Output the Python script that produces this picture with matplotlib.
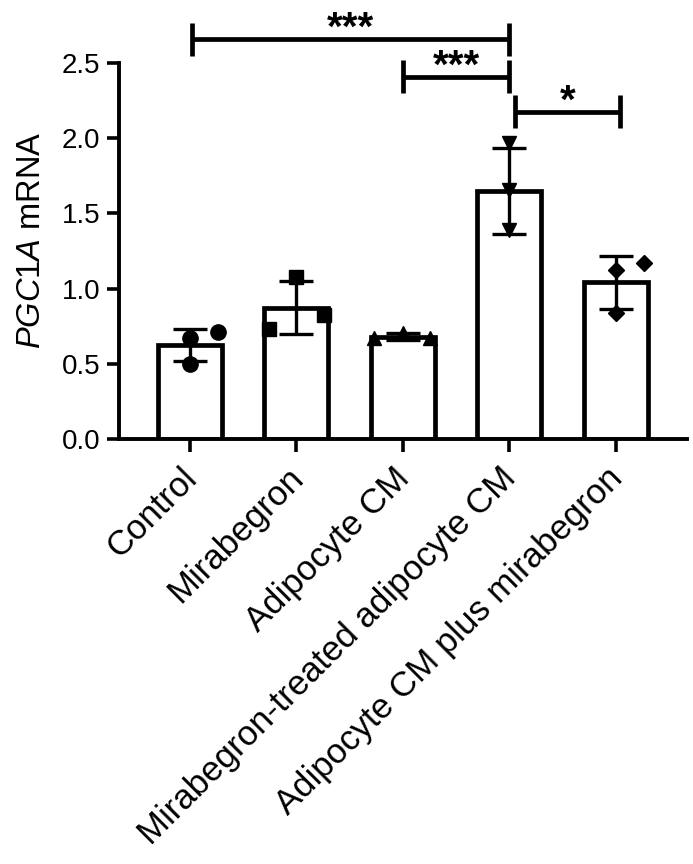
import matplotlib
matplotlib.use('Agg')
import matplotlib.pyplot as plt
from matplotlib.transforms import ScaledTranslation

plt.rcParams['font.family'] = ['Liberation Sans', 'DejaVu Sans']
plt.rcParams['mathtext.fontset'] = 'custom'
plt.rcParams['mathtext.rm'] = 'Liberation Sans'
plt.rcParams['mathtext.it'] = 'Liberation Sans:italic'

# datos
grupos = ['Control', 'Mirabegron', 'Adipocyte CM',
          'Mirabegron-treated adipocyte CM', 'Adipocyte CM plus mirabegron']
medias = [0.627, 0.875, 0.682, 1.652, 1.043]
desv = [0.105, 0.177, 0.022, 0.286, 0.175]

# puntos individuales (desplazamiento x, valor)
pts_control = [(0.0, 0.671), (0.26, 0.711), (0.0, 0.498)]
pts_mira = [(0.0, 1.080), (-0.26, 0.733), (0.26, 0.826)]
pts_cm = [(-0.27, 0.671), (0.0, 0.704), (0.26, 0.671)]
pts_mira_cm = [(0.0, 1.967), (0.0, 1.657), (0.0, 1.391)]
pts_cm_mira = [(0.0, 1.125), (0.27, 1.174), (0.0, 0.841)]
puntos = [pts_control, pts_mira, pts_cm, pts_mira_cm, pts_cm_mira]
marcadores = ['o', 's', '^', 'v', 'D']
tamanos = [11, 10, 10.5, 10.5, 8.5]

# comparaciones: (grupo a, grupo b, altura, texto)
comparaciones = [(0.02, 3.0, 2.658, '***'),
                 (2.0, 3.0, 2.41, '***'),
                 (3.05, 4.04, 2.177, '*')]

fig = plt.figure(figsize=(6.93, 8.64), dpi=100)
ax = fig.add_axes([0.1717, 0.4916, 0.8196, 0.4355])

x = list(range(len(grupos)))
ax.bar(x, medias, width=0.6, color='white', edgecolor='black', linewidth=3.4, zorder=2)
ax.errorbar(x, medias, yerr=desv, fmt='none', ecolor='black', elinewidth=2.4,
            capsize=12.5, capthick=2.4, zorder=3)
for i, grupo_pts in enumerate(puntos):
    xs = [i + p[0] for p in grupo_pts]
    ys = [p[1] for p in grupo_pts]
    ax.plot(xs, ys, linestyle='none', marker=marcadores[i], markersize=tamanos[i],
            color='black', zorder=4, clip_on=False)

for a, b, h, txt in comparaciones:
    ax.plot([a, b], [h, h], color='black', linewidth=3.4, clip_on=False, solid_capstyle='butt')
    for xx in (a, b):
        ax.plot([xx, xx], [h - 0.11, h + 0.11], color='black', linewidth=3.4,
                clip_on=False, solid_capstyle='butt')
    ax.text((a + b) / 2, h - 0.005, txt, ha='center', va='baseline', fontsize=29,
            fontweight='bold', clip_on=False)

ax.set_xlim(-0.667, 4.67)
ax.set_ylim(0, 2.5)
ax.set_yticks([0.0, 0.5, 1.0, 1.5, 2.0, 2.5])
ax.set_yticklabels(['0.0', '0.5', '1.0', '1.5', '2.0', '2.5'])
ax.set_xticks(x)
ax.set_xticklabels(grupos, rotation=45, ha='right', va='top', rotation_mode='anchor',
                   fontsize=25)
ax.tick_params(axis='y', labelsize=20, width=2.6, length=9, pad=4.5)
ax.tick_params(axis='x', width=2.6, length=9, pad=7)
desplaza = ScaledTranslation(-7 / 72, 0, fig.dpi_scale_trans)
for etiqueta in ax.get_xticklabels():
    etiqueta.set_transform(etiqueta.get_transform() + desplaza)
ax.set_ylabel(r'$\mathit{PGC1A}$ mRNA', fontsize=23.5)
ax.yaxis.set_label_coords(-0.127, 0.53)

for lado in ['top', 'right']:
    ax.spines[lado].set_visible(False)
for lado in ['left', 'bottom']:
    ax.spines[lado].set_linewidth(2.8)

plt.savefig('out.png', dpi=100)
